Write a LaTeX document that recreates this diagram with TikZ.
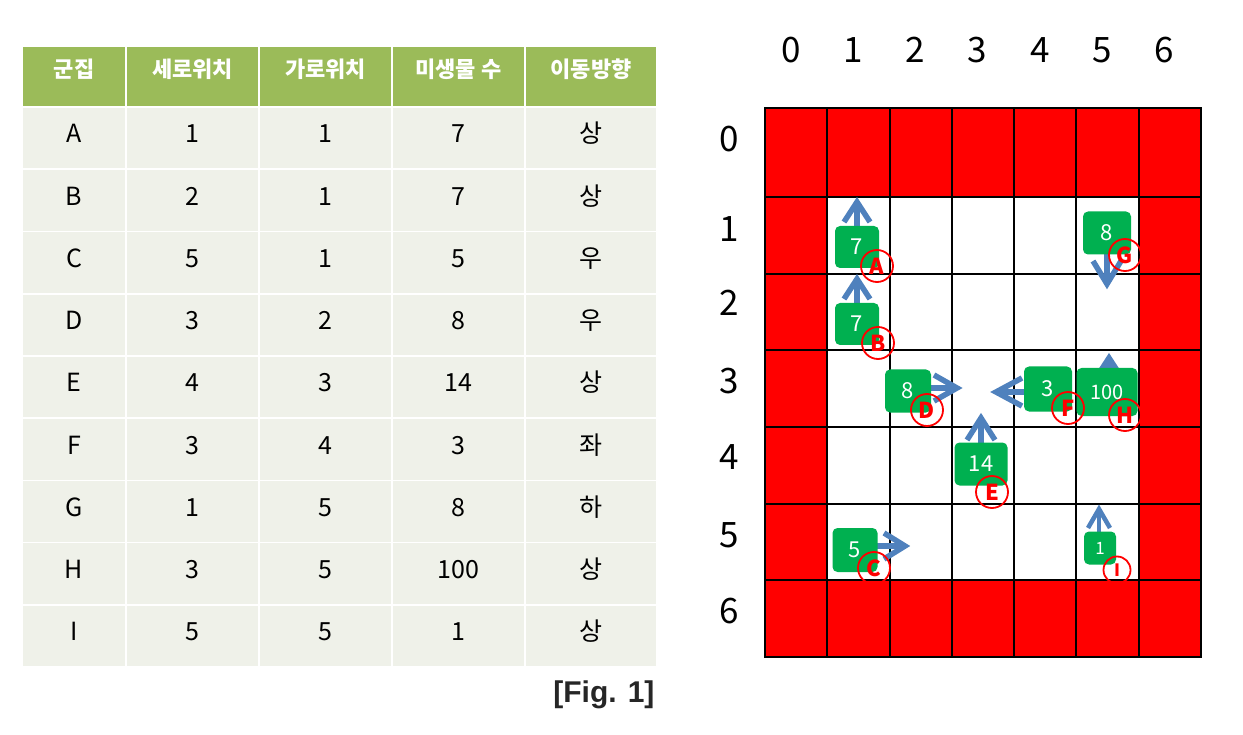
\documentclass[tikz,border=0pt]{standalone}
\usepackage{fontspec}
\setmainfont{Noto Sans CJK KR}
\newfontfamily\figfont{Liberation Sans}
\usetikzlibrary{positioning,calc}

\definecolor{hdrgreen}{HTML}{9BBB59}
\definecolor{cellgray}{HTML}{EFF1E9}
\definecolor{boxgreen}{HTML}{00B050}
\definecolor{arrowblue}{HTML}{4F81BD}
\definecolor{wallred}{HTML}{FF0000}
\definecolor{figgray}{HTML}{262626}

\begin{document}
\begin{tikzpicture}[x=1pt, y=-1pt,
    hdr/.style={anchor=base, text=white, font=\bfseries\fontsize{22}{22}\selectfont},
    body/.style={anchor=base, font=\fontsize{25}{25}\selectfont},
    axis/.style={anchor=base, font=\fontsize{35}{35}\selectfont},
    gridline/.style={black, line width=2pt},
    colony/.style={fill=boxgreen, rounded corners=5pt, inner sep=0pt, text=white, font=\fontsize{22}{22}\selectfont},
    tag/.style={circle, draw=wallred, line width=1.8pt, minimum size=32pt, inner sep=0pt, text=wallred, font=\bfseries\fontsize{22}{22}\selectfont},
    move/.style={draw=arrowblue, line width=5.5pt, line join=miter, miter limit=10}]
\useasboundingbox (0,0) rectangle (1243,735);

% table header
\foreach \xa/\xb/\t [count=\c] in {22/126/군집, 126/259/세로위치, 259/392/가로위치, 392/525/미생물 수, 525/657/이동방향} {
    \fill[hdrgreen] ({\xa+1},47) rectangle ({\xb-1},106);
    \node[hdr] (h\c) at ({(\xa+\xb)/2},78) {\t};
}
% table rows
\foreach \n/\r/\cc/\m/\d [count=\i] in {A/1/1/7/상, B/2/1/7/상, C/5/1/5/우, D/3/2/8/우, E/4/3/14/상, F/3/4/3/좌, G/1/5/8/하, H/3/5/100/상, I/5/5/1/상} {
    \pgfmathsetmacro\yt{108+62.2*(\i-1)}
    \foreach \xa/\xb in {22/126, 126/259, 259/392, 392/525, 525/657}
        \fill[cellgray] ({\xa+1},\yt) rectangle ({\xb-1},{\yt+60.5});
    \node[body] (n\i) at (74,{\yt+35}) {\n};
    \node[body] (r\i) at (192.5,{\yt+35}) {\r};
    \node[body] (c\i) at (325.5,{\yt+35}) {\cc};
    \node[body] (m\i) at (458.5,{\yt+35}) {\m};
    \node[body] (d\i) at (591,{\yt+35}) {\d};
}
\node[anchor=base east, text=figgray, font=\figfont\bfseries\fontsize{30}{30}\selectfont] (fig) at (658,702) {[Fig. 1]};

% grid
\fill[wallred] (765,108) rectangle (1201,657);
\fill[white] (827.3,197) rectangle (1138.7,580.3);
\foreach \j in {1,...,6}
    \draw[gridline] ({765+62.286*\j},108) -- ({765+62.286*\j},657);
\foreach \yy in {197,273.7,350.3,427,503.7,580.3}
    \draw[gridline] (765,\yy) -- (1201,\yy);
\draw[gridline] (765,108) rectangle (1201,657);
\foreach \j/\xx in {0/791,1/853,2/915,3/977,4/1040,5/1102,6/1164}
    \node[axis] (col\j) at (\xx,63) {\j};
\foreach \j/\yy in {0/151.5,1/241.5,2/315.5,3/393.5,4/469.5,5/547.5,6/623.5}
    \node[axis] (row\j) at (729,\yy) {\j};

% colony centres and arrow tips
\coordinate (pA) at (857,247);  \coordinate (tipA) at (857,202);
\coordinate (pB) at (857,324);  \coordinate (tipB) at (857,279);
\coordinate (pC) at (855,550);  \coordinate (tipC) at (905,546);
\coordinate (pD) at (908,391);  \coordinate (tipD) at (957,388);
\coordinate (pE) at (981,464);  \coordinate (tipE) at (981,418);
\coordinate (pF) at (1048,389); \coordinate (tipF) at (996,392);
\coordinate (pG) at (1107,233); \coordinate (tipG) at (1107,284);
\coordinate (pH) at (1107,392); \coordinate (tipH) at (1109,358);
\coordinate (pI) at (1100,548); \coordinate (tipI) at (1099,509);

% arrows (under the boxes)
\draw[move] (tipA |- pA) -- (tipA);  \draw[move] (tipA) ++(-13,20) -- (tipA) -- ++(13,20);
\draw[move] (tipB |- pB) -- (tipB);  \draw[move] (tipB) ++(-13,20) -- (tipB) -- ++(13,20);
\draw[move] (tipC -| pC) -- (tipC);  \draw[move] (tipC) ++(-21,-13) -- (tipC) -- ++(-21,13);
\draw[move] (tipD -| pD) -- (tipD);  \draw[move] (tipD) ++(-23,-13) -- (tipD) -- ++(-23,13);
\draw[move] (tipE |- pE) -- (tipE);  \draw[move] (tipE) ++(-14,22) -- (tipE) -- ++(14,22);
\draw[move] (tipF -| pF) -- (tipF);  \draw[move] (tipF) ++(26,-14) -- (tipF) -- ++(26,14);
\draw[move] (tipG |- pG) -- (tipG);  \draw[move] (tipG) ++(-14,-23) -- (tipG) -- ++(14,-23);
\draw[move] (tipH |- pH) -- (tipH);  \draw[move] (tipH) ++(-13,20) -- (tipH) -- ++(13,20);
\draw[move, line width=4.5pt] (tipI |- pI) -- (tipI);  \draw[move, line width=4.5pt] (tipI) ++(-11,19) -- (tipI) -- ++(11,19);

% colonies
\node[colony, minimum width=44pt, minimum height=42pt] (boxA) at (pA) {7};
\node[colony, minimum width=44pt, minimum height=42pt] (boxB) at (pB) {7};
\node[colony, minimum width=45pt, minimum height=44pt] (boxC) at (pC) {5};
\node[colony, minimum width=46pt, minimum height=43pt] (boxD) at (pD) {8};
\node[colony, minimum width=53pt, minimum height=43pt] (boxE) at (pE) {14};
\node[colony, minimum width=48pt, minimum height=45pt] (boxF) at (pF) {3};
\node[colony, minimum width=48pt, minimum height=43pt] (boxG) at (pG) {8};
\node[colony, minimum width=61pt, minimum height=48pt, font=\fontsize{20}{20}\selectfont] (boxH) at (pH) {100};
\node[colony, minimum width=32pt, minimum height=33pt, font=\fontsize{17}{17}\selectfont] (boxI) at (pI) {1};

% labels
\node[tag] (tagA) at (877,266) {A};
\node[tag] (tagB) at (878,343) {B};
\node[tag] (tagC) at (874,568) {C};
\node[tag] (tagD) at (927,410) {D};
\node[tag] (tagE) at (992,492) {E};
\node[tag] (tagF) at (1068,408) {F};
\node[tag] (tagG) at (1125,255) {G};
\node[tag] (tagH) at (1125,415) {H};
\node[tag, minimum size=27pt, font=\bfseries\fontsize{17}{17}\selectfont] (tagI) at (1117,570) {I};
\end{tikzpicture}
\end{document}
